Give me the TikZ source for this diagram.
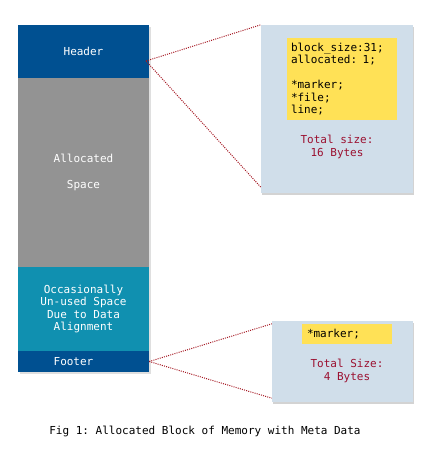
\documentclass[tikz,border=0pt]{standalone}
\usepackage{fontspec}
\setmonofont{DejaVu Sans Mono}
\usetikzlibrary{shadows}
\definecolor{hdrblue}{RGB}{0,80,145}
\definecolor{allocgray}{RGB}{147,147,147}
\definecolor{padteal}{RGB}{16,144,176}
\definecolor{metablue}{RGB}{208,222,234}
\definecolor{fieldyellow}{RGB}{255,225,86}
\definecolor{sizered}{RGB}{155,16,48}
\definecolor{linkred}{RGB}{165,25,35}
\begin{document}
\begin{tikzpicture}[x=1pt, y=-1pt, every node/.style={font=\ttfamily\fontsize{11}{12.4}\selectfont}]
    % Stili
    \tikzset{
        mem/.style={rectangle, minimum width=131pt, inner sep=0pt,
                    text=white, align=center,
                    drop shadow={shadow xshift=1.5pt, shadow yshift=-2pt, opacity=.25}},
        meta/.style={rectangle, fill=metablue, inner sep=0pt,
                    drop shadow={shadow xshift=1pt, shadow yshift=-2pt, opacity=.35}},
        field/.style={rectangle, fill=fieldyellow, align=left, text=black},
        total/.style={align=center, text=sizered},
        link/.style={line width=1pt, dash pattern=on 1pt off 1.2pt, linkred}
    }
    \useasboundingbox (0,0) rectangle (434,457);

    % Blocco di memoria
    \node[mem, fill=hdrblue, minimum height=53pt] (header) at (83.5,51.5) {Header};
    \node[mem, fill=allocgray, minimum height=189pt] (alloc) at (83.5,172.5) {Allocated\\[13pt]Space};
    \node[mem, fill=padteal, minimum height=84pt] (unused) at (83.5,309)
        {Occasionally\\Un-used Space\\Due to Data\\Alignment};
    \node[mem, fill=hdrblue, minimum height=21pt] (footer) at (83.5,361.5) {\hspace*{-20pt}Footer};

    % Meta dati header
    \node[meta, minimum width=152pt, minimum height=168pt] (meta) at (337,109) {};
    \node[field, minimum width=110pt, minimum height=82pt, text width=102pt, inner sep=4pt] (hfield) at (342,79)
        {block\_size:31;\\allocated: 1;\\[12.4pt]{*}marker;\\{*}file;\\line;};
    \node[total] (htotal) at (337,147) {Total size:\\16 Bytes};

    % Meta dati footer
    \node[meta, minimum width=141pt, minimum height=81pt] (fmeta) at (342.5,361.5) {};
    \node[field, minimum width=90pt, minimum height=18pt, text width=80pt, inner sep=5pt] (ffield) at (347,334)
        {*marker;};
    \node[total] (ftotal) at (347,371) {Total Size:\\4 Bytes};

    % Collegamenti
    \coordinate (hdot) at (146,61);
    \draw[link] (hdot) -- (meta.north west);
    \draw[link] (hdot) -- ([yshift=6pt]meta.south west);
    \draw[link] (footer.east) -- ([yshift=-3pt]fmeta.north west);
    \draw[link] (footer.east) -- ([yshift=4pt]fmeta.south west);

    % Didascalia
    \node[text=black] (caption) at (205,431) {Fig 1: Allocated Block of Memory with Meta Data};
\end{tikzpicture}
\end{document}
